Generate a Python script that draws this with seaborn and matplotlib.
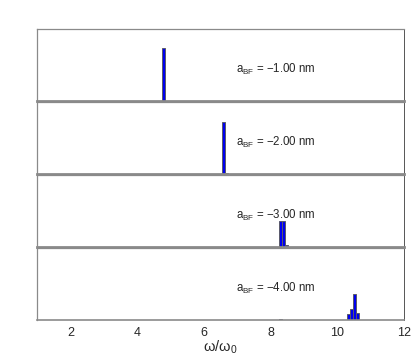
import numpy as np
import pandas as pd
import matplotlib
matplotlib.use("Agg")
import matplotlib.pyplot as plt
import seaborn as sns

# ---- data ----
a_bf = [-1.00, -2.00, -3.00, -4.00]
omega_1 = [4.80]
prob_1 = [1.00]
omega_2 = [6.60, 6.69]
prob_2 = [0.98, 0.02]
omega_3 = [8.31, 8.40, 8.49]
prob_3 = [0.48, 0.48, 0.03]
omega_4 = [8.31, 10.34, 10.43, 10.52, 10.61]
prob_4 = [0.02, 0.11, 0.20, 0.48, 0.13]
x_ticks = [2, 4, 6, 8, 10, 12]

panels = [(omega_1, prob_1), (omega_2, prob_2), (omega_3, prob_3), (omega_4, prob_4)]

sns.set_style("white")
plt.rcParams["font.family"] = ["Liberation Sans", "DejaVu Sans"]
plt.rcParams["mathtext.fontset"] = "custom"
plt.rcParams["mathtext.rm"] = "Liberation Sans"
plt.rcParams["mathtext.it"] = "Liberation Sans"

W, H = 415, 359
fig = plt.figure(figsize=(W / 100, H / 100), dpi=100)
fig.patch.set_facecolor("white")

left, right = 37, 404
tops = [29, 102, 175, 248]
ph = 72
bw = 0.09
gray = "#8a8a8a"

for i, (om, pr) in enumerate(panels):
    top = tops[i]
    ax = fig.add_axes([left / W, 1 - (top + ph) / H, (right - left) / W, ph / H])
    df = pd.DataFrame({"omega": om, "prob": pr})
    edges = sorted(set(np.round(np.concatenate([np.array(om) - bw / 2, np.array(om) + bw / 2]), 4)))
    sns.histplot(data=df, x="omega", weights="prob", bins=edges, ax=ax,
                 color="#0000ee", alpha=1.0, edgecolor="#5a5a6a", linewidth=0.7)
    ax.set_xlim(1, 12)
    ax.set_ylim(0, 1.35)
    ax.set_ylabel("")
    ax.set_xlabel("")
    ax.set_yticks([])
    for s in ["left", "top"]:
        ax.spines[s].set_color(gray)
        ax.spines[s].set_linewidth(0.9)
    ax.spines["right"].set_color("#555555")
    ax.spines["right"].set_linewidth(0.7)
    ax.spines["bottom"].set_color(gray)
    ax.spines["bottom"].set_linewidth(2.0 if i < 3 else 1.2)
    ax.set_xticks(x_ticks)
    ax.tick_params(axis="x", direction="in", length=3, color=gray, width=0.8,
                   labelsize=9, pad=5)
    if i < 3:
        ax.set_xticklabels([])
        ax.tick_params(axis="x", length=0)
    else:
        ax.set_xlabel("ω/ω$_0$", fontsize=10.5, labelpad=0)
    ax.text(0.542, 0.44, "a$_{\\mathrm{BF}}$ = \u2212%.2f nm" % abs(a_bf[i]),
            transform=ax.transAxes, fontsize=8.3, va="center", ha="left")

fig.savefig("out.png", dpi=100)
